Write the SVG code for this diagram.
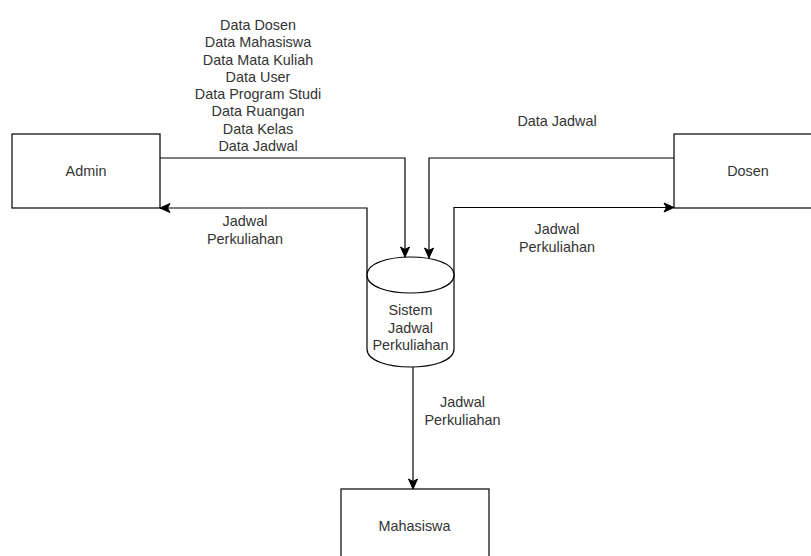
<svg xmlns="http://www.w3.org/2000/svg" width="811" height="556" viewBox="0 0 811 556">
  <defs>
    <marker id="arrow" markerUnits="userSpaceOnUse" markerWidth="11" markerHeight="11" refX="10" refY="5" orient="auto" overflow="visible">
      <path d="M0,0.5 L10,5 L0,9.5 L2.5,5 Z" fill="#000" stroke="#000" stroke-width="1"/>
    </marker>
    <style>
      .box { fill: #fff; stroke: #000; stroke-width: 1.2; }
      .edge { fill: none; stroke: #000; stroke-width: 1.2; marker-end: url(#arrow); }
      text { font-family: "Liberation Sans", Arial, Helvetica, sans-serif; font-size: 14.4px; fill: #333; text-anchor: middle; }
    </style>
  </defs>
  <rect width="811" height="556" fill="#fff"/>

  <g id="connectors">
    <path class="edge" d="M160,158 L405,158 L405,257"/>
    <path class="edge" d="M674,158 L429,158 L429,258"/>
    <path class="edge" d="M367,275 L367,208 L160,208"/>
    <path class="edge" d="M454,275 L454,207.5 L674,207.5"/>
    <path class="edge" d="M413,367 L413,489"/>
  </g>

  <g id="labels">
    <text x="258" y="30">Data Dosen</text>
    <text x="258" y="47.3">Data Mahasiswa</text>
    <text x="258" y="64.6">Data Mata Kuliah</text>
    <text x="258" y="81.8">Data User</text>
    <text x="258" y="99.1">Data Program Studi</text>
    <text x="258" y="116.4">Data Ruangan</text>
    <text x="258" y="133.7">Data Kelas</text>
    <text x="258" y="151">Data Jadwal</text>
    <text x="557" y="126">Data Jadwal</text>
    <text x="245" y="226">Jadwal</text>
    <text x="245" y="243.5">Perkuliahan</text>
    <text x="557" y="234">Jadwal</text>
    <text x="557" y="251.5">Perkuliahan</text>
    <text x="462.5" y="407">Jadwal</text>
    <text x="462.5" y="424.5">Perkuliahan</text>
  </g>

  <g id="admin">
    <rect class="box" x="12" y="134" width="148" height="74"/>
    <text x="86" y="176">Admin</text>
  </g>

  <g id="dosen">
    <rect class="box" x="674" y="134" width="148" height="74"/>
    <text x="748" y="176">Dosen</text>
  </g>

  <g id="mahasiswa">
    <rect class="box" x="341" y="489" width="148" height="74"/>
    <text x="414.5" y="531">Mahasiswa</text>
  </g>

  <g id="sistem">
    <path class="box" d="M367,275 C367,251 454,251 454,275 L454,349 C454,373 367,373 367,349 Z"/>
    <path fill="none" stroke="#000" stroke-width="1.2" d="M367,275 C367,299 454,299 454,275"/>
    <text x="410.5" y="315">Sistem</text>
    <text x="410.5" y="332.5">Jadwal</text>
    <text x="410.5" y="350">Perkuliahan</text>
  </g>
</svg>
